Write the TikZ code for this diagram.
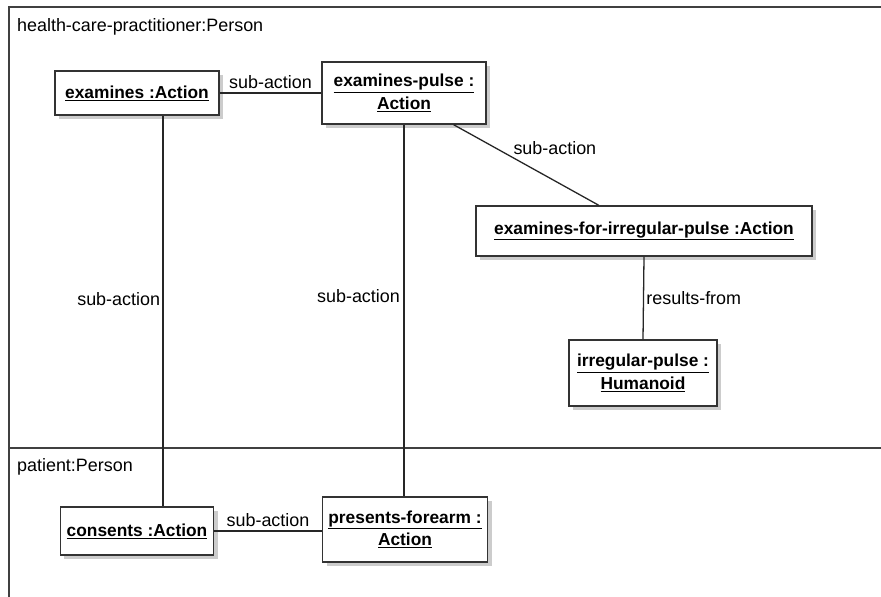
\documentclass[tikz,border=0pt]{standalone}
\usepackage{fontspec}
\setmainfont{Liberation Sans}
\usetikzlibrary{calc,shadows}

\begin{document}
\begin{tikzpicture}[x=0.03cm,y=-0.03cm,
  font=\fontsize{15.3}{18}\selectfont,
  frame/.style={draw=black!75,line width=1.2pt},
  link/.style={draw=black!85,line width=1.1pt}]
\useasboundingbox (0,0) rectangle (881,597);

% partitions
\draw[frame] (881,7) -- (9,7) -- (9,597);
\draw[frame] (9,448) -- (881,448);
\node[anchor=west] (hcp) at (13,27) {health-care-practitioner:Person};
\node[anchor=west] (pat) at (13,467) {patient:Person};

\begin{scope}[every node/.style={draw=black!80,line width=1.2pt,fill=white,
    align=center,inner sep=0pt,font=\fontsize{14.8}{19}\selectfont\bfseries,
    drop shadow={shadow xshift=0.12cm,shadow yshift=-0.12cm,fill=black!25,opacity=0.8}}]
\node[minimum width=4.92cm,minimum height=1.32cm] (examines) at (137,93)
  {\underline{examines :Action}};
\node[minimum width=4.92cm,minimum height=1.86cm] (pulse) at (404,93)
  {\underline{examines-pulse :}\\\underline{Action}};
\node[minimum width=10.08cm,minimum height=1.5cm] (irrexam) at (644,231)
  {\underline{examines-for-irregular-pulse :Action}};
\node[minimum width=4.44cm,minimum height=1.98cm] (irrpulse) at (643,373)
  {\underline{irregular-pulse :}\\\underline{Humanoid}};
\node[minimum width=4.59cm,minimum height=1.44cm] (consents) at (137,531)
  {\underline{consents :Action}};
\node[minimum width=4.95cm,minimum height=1.95cm] (forearm) at (405,529.5)
  {\underline{presents-forearm :}\\\underline{Action}};
\end{scope}

\begin{scope}[every node/.style={inner sep=3pt}]
\path[link] (examines.east) -- node[above] {sub-action} (examines.east -| pulse.west);
\path[link] ([xshift=0.78cm]examines.south)
  -- node[pos=0.47,left,inner sep=2pt] {sub-action} ([xshift=0.78cm]examines.south |- consents.north);
\path[link] (pulse.south) -- node[pos=0.46,left,inner sep=3pt] {sub-action} (pulse.south |- forearm.north);
\path[link] ($(pulse.south west)!0.8!(pulse.south east)$)
  -- node[pos=0.4,above right,inner sep=1pt] {sub-action} ($(irrexam.north west)!0.366!(irrexam.north east)$);
\path[link] (irrexam.south) -- node[right,inner sep=2pt] {results-from} (irrpulse.north);
\path[link] (consents.east) -- node[above] {sub-action} (consents.east -| forearm.west);
\end{scope}
\end{tikzpicture}
\end{document}
